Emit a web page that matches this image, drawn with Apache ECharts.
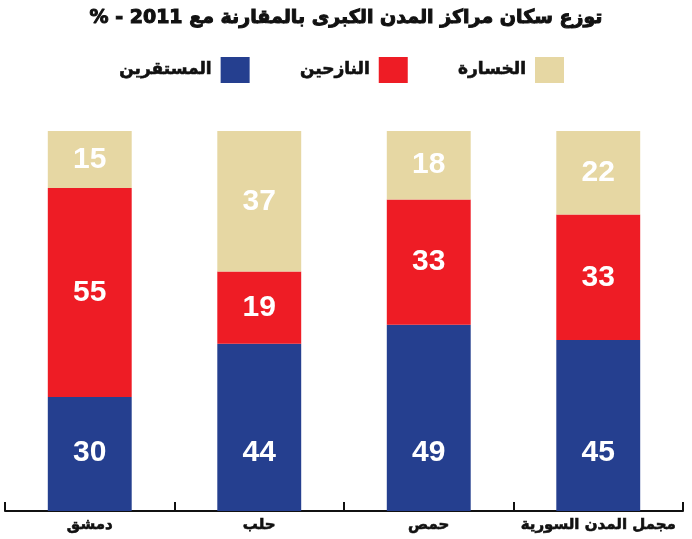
<!DOCTYPE html>
<html><head><meta charset="utf-8">
<script src="https://cdn.jsdelivr.net/npm/echarts@6/dist/echarts.min.js"></script>
<style>html,body{margin:0;padding:0;background:#fff}#main{width:692px;height:539px}</style>
</head><body><div id="main"></div>
<script>
const titleText = "\u202Bتوزع سكان مراكز المدن الكبرى بالمقارنة مع 2011 - %\u202C";
const categories = ["دمشق", "حلب", "حمص", "مجمل المدن السورية"];
const seriesNames = ["المستقرين", "النازحين", "الخسارة"];
const settled = [30, 44, 49, 45];
const displaced = [55, 19, 33, 33];
const loss = [15, 37, 18, 22];

const colors = ["#253f8f", "#ee1c25", "#e6d7a3"];
const arFont = "DejaVu Sans";
const numLabel = {show: true, color: "#fff", fontFamily: "Liberation Sans", fontWeight: "bold", fontSize: 30};

const chart = echarts.init(document.getElementById("main"), null, {renderer: "canvas"});
chart.setOption({
  animation: false,
  title: {text: titleText, left: 'center', top: 4,
    textStyle: {fontFamily: arFont, fontWeight: 'bold', fontSize: 19, color: '#111',
      textBorderColor: '#111', textBorderWidth: 1}},
  legend: {
    data: seriesNames, left: 114, top: 52, align: 'right', itemWidth: 29, itemHeight: 26, itemGap: 50,
    icon: 'rect',
    textStyle: {fontFamily: arFont, fontWeight: 'bold', fontSize: 17, color: '#111', padding: [0, 4, 0, 0],
      textBorderColor: '#111', textBorderWidth: 0.6}
  },
  grid: {left: 5, right: 9, top: 131, bottom: 28},
  xAxis: {
    type: 'category', data: categories,
    axisLine: {lineStyle: {color: '#111', width: 2}},
    axisTick: {show: true, interval: 0, inside: true, length: 9, lineStyle: {color: '#111', width: 2}},
    axisLabel: {interval: 0, fontFamily: arFont, fontWeight: 'bold', fontSize: 15, color: '#111', margin: 7,
      textBorderColor: '#111', textBorderWidth: 0.6}
  },
  yAxis: {type: 'value', min: 0, max: 100, show: false, splitLine: {show: false}},
  series: [
    {name: seriesNames[0], type: 'bar', stack: 's', data: settled, barWidth: '49.5%',
     itemStyle: {color: colors[0]}, label: Object.assign({position: 'insideBottom', distance: 43}, numLabel)},
    {name: seriesNames[1], type: 'bar', stack: 's', data: displaced,
     itemStyle: {color: colors[1]}, label: Object.assign({position: 'inside'}, numLabel)},
    {name: seriesNames[2], type: 'bar', stack: 's', data: loss,
     itemStyle: {color: colors[2]}, label: Object.assign({position: 'inside'}, numLabel)}
  ]
});
</script></body></html>
